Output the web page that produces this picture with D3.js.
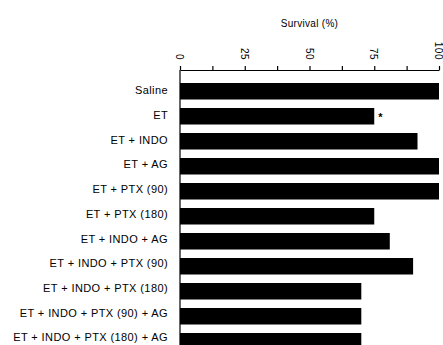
<!DOCTYPE html>
<html><head><meta charset="utf-8">
<script src="https://cdn.jsdelivr.net/npm/d3@7"></script>
<style>
body{margin:0;background:#fff;}
svg{display:block;font-family:"Liberation Sans",Arial,sans-serif;}
</style></head>
<body><svg id="c" width="443" height="345"></svg>
<script>
const categories = ["Saline","ET","ET + INDO","ET + AG","ET + PTX (90)","ET + PTX (180)","ET + INDO + AG","ET + INDO + PTX (90)","ET + INDO + PTX (180)","ET + INDO + PTX (90) + AG","ET + INDO + PTX (180) + AG"];
const survival = [100,75,91.7,100,100,75,81,90,70,70,70];
const significant = ["ET"];
const tickValues = [0,12.5,25,37.5,50,62.5,75,87.5,100];
const tickLabels = ["0","","25","","50","","75","","100"];
const axisTitle = "Survival (%)";

const svg = d3.select("#c");
const x0 = 180, x1 = 439, axisY = 70;
const x = d3.scaleLinear().domain([0,100]).range([x0,x1]);
const y = d3.scaleBand().domain(categories).range([74.5,358]).padding(0.34);

// bars
svg.append("g").selectAll("rect").data(categories).join("rect")
  .attr("x", x(0)).attr("y", d=>y(d))
  .attr("width", (d,i)=>x(survival[i])-x(0))
  .attr("height", y.bandwidth()).attr("fill","#000");

// asterisks
svg.append("g").selectAll("text").data(categories.filter(c=>significant.includes(c))).join("text")
  .attr("x", d=>x(survival[categories.indexOf(d)])+4)
  .attr("y", d=>y(d)+y.bandwidth()/2+5)
  .attr("font-size",11).attr("font-weight","bold").text("*");

// top axis
const ax = svg.append("g").attr("transform",`translate(0,${axisY})`)
  .call(d3.axisTop(x).tickValues(tickValues).tickSize(4).tickSizeOuter(0)
    .tickFormat((d,i)=>tickLabels[i]));
ax.select(".domain").attr("stroke","#000").attr("stroke-width",1.2);
ax.selectAll(".tick line").attr("stroke","#000").attr("stroke-width",1.2);
ax.selectAll(".tick text")
  .attr("transform","rotate(90)")
  .attr("x",-10).attr("y",0).attr("dy","0.45em")
  .style("text-anchor","end")
  .attr("font-size",10).attr("fill","#000").style("letter-spacing","0.5px");

// left axis
const lax = svg.append("g").attr("transform",`translate(${x0},0)`)
  .call(d3.axisLeft(y).tickSize(0).tickPadding(12));
lax.select(".domain").attr("d",`M0,${axisY}V345`).attr("stroke","#000").attr("stroke-width",1.2);
lax.selectAll(".tick text").attr("font-size",11).attr("fill","#000")
  .attr("dy",(d,i)=>(0.32*11 - 0.4 - i*0.3)+"px")
  .style("letter-spacing","0.4px");

// title
svg.append("text").attr("x",(x0+x1)/2+0).attr("y",27).attr("text-anchor","middle")
  .attr("font-size",10).style("letter-spacing","0.3px").text(axisTitle);
</script></body></html>
